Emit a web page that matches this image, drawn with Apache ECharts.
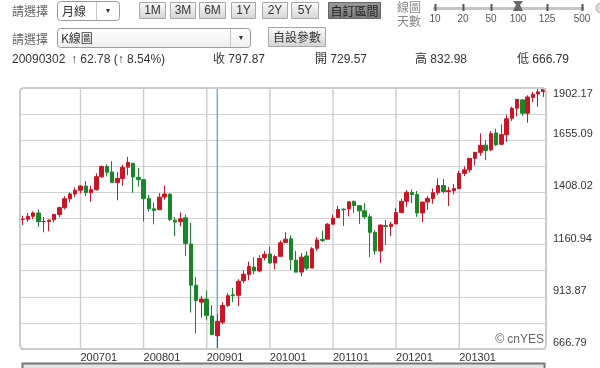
<!DOCTYPE html>
<html><head><meta charset="utf-8">
<script src="https://cdn.jsdelivr.net/npm/echarts@6/dist/echarts.min.js"></script>
<style>html,body{margin:0;padding:0;background:#fff;}#c{width:600px;height:368px;}</style>
</head><body><div id="c"></div>
<script>
// ---------- DATA ----------
const months = [
 '200602','200603','200604','200605','200606','200607','200608','200609','200610','200611','200612',
 '200701','200702','200703','200704','200705','200706','200707','200708','200709','200710','200711','200712',
 '200801','200802','200803','200804','200805','200806','200807','200808','200809','200810','200811','200812',
 '200901','200902','200903','200904','200905','200906','200907','200908','200909','200910','200911','200912',
 '201001','201002','201003','201004','201005','201006','201007','201008','201009','201010','201011','201012',
 '201101','201102','201103','201104','201105','201106','201107','201108','201109','201110','201111','201112',
 '201201','201202','201203','201204','201205','201206','201207','201208','201209','201210','201211','201212',
 '201301','201302','201303','201304','201305','201306','201307','201308','201309','201310','201311','201312',
 '201401','201402','201403','201404','201405'
];
const opens = [
 1280.08,1280.66,1294.83,1310.61,1270.05,1270.06,1278.53,1303.80,1335.82,1377.76,1400.63,
 1418.03,1437.90,1406.80,1420.83,1482.37,1530.62,1504.66,1455.18,1473.96,1527.29,1545.79,1479.63,
 1467.97,1378.60,1330.45,1326.41,1385.97,1399.62,1276.69,1269.42,1287.83,1164.17,968.67,888.61,
 902.99,823.09,729.57,793.59,872.74,923.26,920.82,990.22,1019.52,1054.91,1036.18,1098.89,
 1116.56,1073.89,1105.36,1171.23,1188.58,1087.30,1031.10,1107.53,1049.72,1143.49,1185.71,1186.60,
 1257.62,1289.14,1328.64,1329.48,1365.21,1345.20,1320.64,1292.59,1219.12,1131.21,1251.00,1246.91,
 1258.86,1312.45,1365.90,1408.47,1397.86,1310.61,1362.33,1379.32,1406.54,1440.90,1412.20,1416.18,
 1426.19,1498.11,1514.68,1569.18,1597.55,1631.71,1609.78,1689.42,1635.95,1681.34,1758.70,1806.55,
 1845.86,1782.68,1857.68,1873.96,1884.66
];
const highs = [
 1297.57,1310.88,1318.16,1326.70,1290.68,1280.42,1306.74,1340.28,1389.45,1407.89,1431.81,
 1441.61,1461.57,1438.89,1498.02,1535.56,1540.56,1555.90,1503.89,1538.74,1576.09,1545.79,1523.57,
 1471.77,1396.02,1359.68,1404.36,1440.24,1404.05,1292.17,1313.15,1303.04,1264.27,1007.51,918.85,
 943.85,875.01,832.98,888.70,930.17,956.23,996.68,1039.47,1080.15,1101.36,1111.10,1130.38,
 1150.45,1112.42,1180.69,1219.80,1205.13,1131.23,1120.95,1129.24,1148.90,1196.14,1227.08,1262.60,
 1302.67,1344.07,1332.28,1364.56,1370.58,1345.20,1356.48,1307.38,1229.29,1256.55,1277.55,1269.37,
 1333.47,1378.04,1419.15,1422.38,1415.32,1363.46,1391.74,1426.68,1474.51,1470.96,1434.27,1448.00,
 1509.94,1530.94,1570.28,1597.57,1687.18,1654.19,1698.78,1709.67,1729.86,1775.22,1813.55,1849.44,
 1850.84,1867.92,1883.97,1897.28,1902.17
];
const lows = [
 1253.61,1268.42,1280.74,1245.34,1219.29,1224.54,1265.71,1290.93,1327.10,1360.98,1385.93,
 1403.97,1389.42,1363.98,1416.37,1476.70,1484.18,1454.25,1370.60,1439.29,1489.56,1406.10,1435.65,
 1270.05,1316.75,1256.98,1324.35,1373.07,1272.00,1200.44,1247.45,1106.42,839.80,741.02,815.69,
 804.47,734.52,666.79,783.32,866.10,888.86,869.32,978.51,991.97,1020.18,1029.38,1085.89,
 1071.59,1044.50,1105.36,1170.69,1040.78,1028.33,1010.91,1039.70,1049.72,1131.87,1173.00,1186.60,
 1257.62,1289.14,1249.05,1294.70,1311.80,1258.07,1282.86,1101.54,1114.22,1074.77,1158.66,1202.37,
 1258.86,1312.45,1340.03,1357.38,1291.98,1266.74,1325.41,1354.65,1396.56,1403.28,1343.35,1398.11,
 1426.19,1485.01,1501.48,1536.03,1581.28,1560.33,1604.57,1627.47,1633.41,1646.47,1746.20,1767.99,
 1770.45,1737.92,1834.44,1814.36,1859.79
];
const closes = [
 1280.66,1294.83,1310.61,1270.09,1270.20,1276.66,1303.82,1335.85,1377.94,1400.63,1418.30,
 1438.24,1406.82,1420.86,1482.37,1530.62,1503.35,1455.27,1473.99,1526.75,1549.38,1481.14,1468.36,
 1378.55,1330.63,1322.70,1385.59,1400.38,1280.00,1267.38,1282.83,1166.36,968.75,896.24,903.25,
 825.88,735.09,797.87,872.81,919.14,919.32,987.48,1020.62,1057.08,1036.19,1095.63,1115.10,
 1073.87,1104.49,1169.43,1186.69,1089.41,1030.71,1101.60,1049.33,1141.20,1183.26,1180.55,1257.64,
 1286.12,1327.22,1325.83,1363.61,1345.20,1320.64,1292.28,1218.89,1131.42,1253.30,1246.96,1257.60,
 1312.41,1365.68,1408.47,1397.91,1310.33,1362.16,1379.32,1406.58,1440.67,1412.16,1416.18,1426.19,
 1498.11,1514.68,1569.19,1597.57,1630.74,1606.28,1685.73,1632.97,1681.55,1756.54,1805.81,1848.36,
 1782.59,1859.45,1872.34,1883.95,1897.45
];
const yTickLabels = ['666.79','913.87','1160.94','1408.02','1655.09','1902.17'];
const xTickLabels = ['200701','200801','200901','201001','201101','201201','201301'];
const selectedMonth = '200903';
const selectedDate = '20090302';
const rangeButtons = ['1M','3M','6M','1Y','2Y','5Y','自訂區間'];
const sliderTicks = ['10','20','50','100','125','500'];

// ---------- BUILD ----------
const FONT = "'Liberation Sans','Noto Sans CJK TC',sans-serif";
const CJK = "'Noto Sans CJK TC','Liberation Sans',sans-serif";
const UP = '#cc1424', DOWN = '#17872a';
const Y_MIN = Math.min.apply(null, lows), Y_MAX = Math.max.apply(null, highs);
const candles = months.map((m, i) => [opens[i], closes[i], lows[i], highs[i]]);
const si = months.indexOf(selectedMonth);
const chg = closes[si] - closes[si - 1];
const pct = chg / closes[si - 1] * 100;

const g = [];
function txt(x, y, s, o) {
  g.push({type: 'text', x: x, y: y, z: 100, silent: true,
    style: Object.assign({text: s, fill: '#333', font: '12px ' + FONT, align: 'left', verticalAlign: 'middle'}, o || {})});
}
function rect(x, y, w, h, o) {
  g.push({type: 'rect', z: 99, silent: true, shape: {x: x, y: y, width: w, height: h, r: (o && o.r) || 0},
    style: Object.assign({fill: '#fff', stroke: '#999', lineWidth: 1}, o || {})});
}
function line(x1, y1, x2, y2, color, w) {
  g.push({type: 'line', z: 100, silent: true, shape: {x1: x1, y1: y1, x2: x2, y2: y2}, style: {stroke: color, lineWidth: w || 1}});
}
const btnGrad = {type: 'linear', x: 0, y: 0, x2: 0, y2: 1, colorStops: [{offset: 0, color: '#fbfbfb'}, {offset: 1, color: '#d4d4d4'}]};
const btnDark = {type: 'linear', x: 0, y: 0, x2: 0, y2: 1, colorStops: [{offset: 0, color: '#9a9a9a'}, {offset: 1, color: '#7a7a7a'}]};

// row 1
txt(12, 11, '請選擇', {fill: '#666', font: '12px ' + CJK});
rect(57.5, 1.5, 62, 19, {r: 3, stroke: '#9a9a9a'});
line(96.5, 2, 96.5, 20, '#c8c8c8');
txt(108, 11, '▼', {font: '7px ' + FONT, align: 'center', fill: '#333'});
txt(62, 11, '月線', {font: '12px ' + CJK});
const btnX = [[139,165],[170,195],[199,225],[231,255],[262,287],[291,318],[328,380]];
rangeButtons.forEach((b, i) => {
  const dark = i === rangeButtons.length - 1;
  rect(btnX[i][0] + 0.5, 2.5, btnX[i][1] - btnX[i][0], 16, {fill: dark ? btnDark : btnGrad, stroke: dark ? '#666' : '#a8a8a8'});
  txt((btnX[i][0] + btnX[i][1]) / 2 + 0.5, 11, b, {align: 'center', font: '12px ' + (dark ? CJK : FONT), fill: dark ? '#222' : '#333'});
});
txt(397, 7, '線圖', {fill: '#888', font: '12px ' + CJK});
txt(397, 21, '天數', {fill: '#888', font: '12px ' + CJK});
line(433, 8.5, 584, 8.5, '#c4c4c4', 3);
const sliderX = [435, 463, 491, 518, 547, 582];
sliderTicks.forEach((t, i) => {
  if (i !== 3) line(sliderX[i] + 0.5, 4, sliderX[i] + 0.5, 11, '#555', 2);
  txt(sliderX[i], 19, t, {align: 'center', font: '10px ' + FONT, fill: '#555'});
});
g.push({type: 'polygon', z: 101, silent: true, shape: {points: [[513,1],[523,1],[520,5],[523,11],[513,11],[516,5]]}, style: {fill: '#666'}});
g.push({type: 'circle', z: 100, silent: true, shape: {cx: 601, cy: 8, r: 5}, style: {fill: '#ddd', stroke: '#aaa'}});

// row 2
txt(12, 39, '請選擇', {fill: '#666', font: '12px ' + CJK});
rect(57.5, 28.5, 193, 19, {r: 3, stroke: '#9a9a9a', fill: {type: 'linear', x: 0, y: 0, x2: 0, y2: 1, colorStops: [{offset: 0, color: '#ffffff'}, {offset: 1, color: '#eeeeee'}]}});
line(230.5, 29, 230.5, 47, '#c8c8c8');
txt(241, 38, '▼', {font: '7px ' + FONT, align: 'center', fill: '#333'});
txt(61, 38, 'K線圖', {font: '12px ' + CJK});
rect(268.5, 27.5, 57, 19, {fill: btnGrad, stroke: '#a8a8a8'});
txt(297, 37, '自設參數', {align: 'center', font: '12px ' + CJK});

// row 3
txt(12, 60, selectedDate);
txt(71, 60, '↑ ' + chg.toFixed(2) + ' (↑ ' + pct.toFixed(2) + '%)');
txt(213, 60, '收 ' + closes[si].toFixed(2));
txt(315, 60, '開 ' + opens[si].toFixed(2));
txt(415, 60, '高 ' + highs[si].toFixed(2));
txt(517, 60, '低 ' + lows[si].toFixed(2));

// plot frame, watermark, navigator edge
g.push({type: 'rect', z: 50, silent: true, shape: {x: 20, y: 88, width: 526, height: 261, r: 4}, style: {fill: 'none', stroke: '#cbcbcb', lineWidth: 2}});
txt(544, 340, '© cnYES', {align: 'right', font: '12px ' + FONT, fill: '#666'});
rect(22.5, 363.5, 522, 10, {fill: '#e4e4e4', stroke: '#777', lineWidth: 2});

function vLine(m, color, w) {
  return {type: 'line', xAxisIndex: 0, yAxisIndex: 0, data: [[m, Y_MIN], [m, Y_MAX]],
    showSymbol: false, symbol: 'none', silent: true, z: 2, animation: false,
    lineStyle: {color: color, width: w || 1, type: 'solid'}, itemStyle: {color: color},
    emphasis: {disabled: true}};
}

const chart = echarts.init(document.getElementById('c'), null, {renderer: 'canvas'});
chart.setOption({
  animation: false,
  backgroundColor: '#fff',
  grid: {left: 20, right: 54, top: 88, bottom: 19},
  xAxis: {
    type: 'category', data: months, boundaryGap: true,
    axisLine: {show: false}, axisTick: {show: false},
    axisLabel: {interval: (i, v) => xTickLabels.indexOf(String(v)) >= 0, align: 'left', margin: 3, color: '#333', fontSize: 11, fontFamily: FONT},
    splitLine: {show: false}
  },
  yAxis: [
    {type: 'value', min: Y_MIN, max: Y_MAX, position: 'right', show: false, splitLine: {show: false}},
    {type: 'value', min: 0, max: 10, interval: 1, position: 'right',
     axisLine: {show: false}, axisTick: {show: false},
     splitLine: {show: true, lineStyle: {color: '#d2d2d2', width: 1}},
     axisLabel: {margin: 7, color: '#333', fontSize: 11, fontFamily: FONT, lineHeight: 12,
       formatter: function (v) {
         if (v % 2 !== 0) return '';
         const s = yTickLabels[v / 2];
         return v === 10 ? '\n' + s : s + '\n';
       }}}
  ],
  graphic: g,
  series: xTickLabels.map(m => vLine(m, '#cdcdcd', 1.4)).concat([
    vLine(selectedMonth, '#4a9fd8', 1.2),
    {type: 'candlestick', name: 'K', xAxisIndex: 0, yAxisIndex: 0, data: candles, barWidth: 4, z: 3,
     itemStyle: {color: UP, color0: DOWN, borderColor: UP, borderColor0: DOWN, borderWidth: 1}}
  ])
});
</script></body></html>
